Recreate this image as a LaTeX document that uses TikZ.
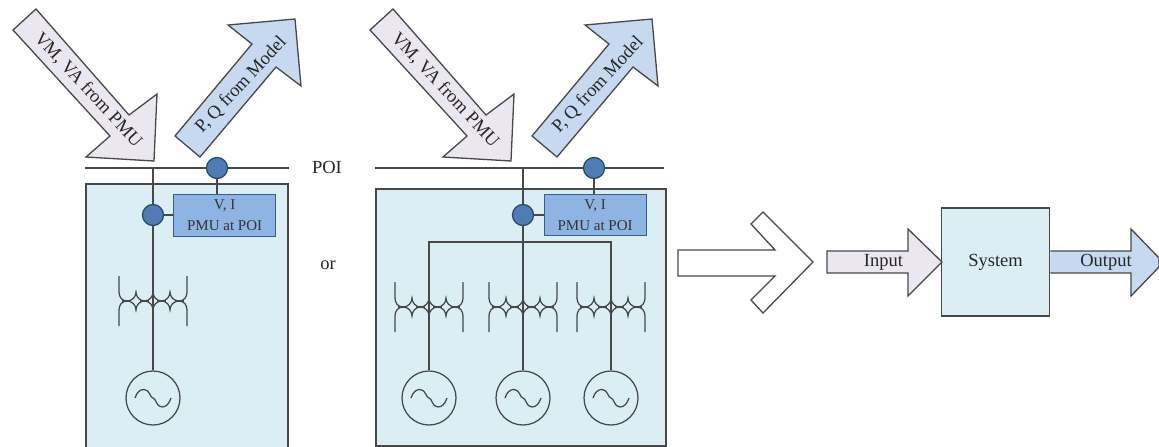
\documentclass[tikz,border=0pt]{standalone}
\usepackage{fontspec}
\setmainfont{Liberation Serif}
\definecolor{linec}{HTML}{484848}
\definecolor{boxfill}{HTML}{DAEEF3}
\definecolor{pmufill}{HTML}{8EB4E3}
\definecolor{pmuline}{HTML}{385D8A}
\definecolor{dotfill}{HTML}{4F7CB3}
\definecolor{infill}{HTML}{EBE7F0}
\definecolor{outfill}{HTML}{C6D9F1}
\tikzset{
  wire/.style={draw=linec,line width=1.5pt},
  thin wire/.style={draw=linec,line width=1.25pt},
  panel/.style={draw=linec,line width=1.6pt,fill=boxfill},
  pmu/.style={draw=pmuline,line width=1.2pt,fill=pmufill,align=center,font=\fontsize{15}{20}\selectfont,text=black!80,inner sep=0pt,anchor=north west},
  dot/.style={circle,draw=pmuline!80!black,line width=1.3pt,fill=dotfill,minimum size=21pt,inner sep=0pt},
  gen/.style={circle,thin wire,fill=none,minimum size=54pt,inner sep=0pt},
  inarrow/.style={draw=linec,line width=1.3pt,fill=infill,line join=miter},
  outarrow/.style={draw=linec,line width=1.3pt,fill=outfill,line join=miter},
  lab/.style={font=\fontsize{18.5}{22}\selectfont,text=black!85,inner sep=0pt},
  xfmrshape/.pic={
    \foreach \s in {1,-1}{
      \draw[thin wire,yscale=\s] (-34,-25) -- (-34,-9)
        .. controls (-34,-4) and (-31,0) .. (-26,0)
        .. controls (-21,0) and (-17,-4) .. (-17,-9)
        .. controls (-17,-4) and (-13,0) .. (-8.5,0)
        .. controls (-4,0) and (0,-4) .. (0,-9)
        .. controls (0,-4) and (4,0) .. (8.5,0)
        .. controls (13,0) and (17,-4) .. (17,-9)
        .. controls (17,-4) and (21,0) .. (26,0)
        .. controls (31,0) and (34,-4) .. (34,-9) -- (34,-25);
    }
    \draw[line width=1.8pt,draw=linec] (-31,0) -- (-22,0) (-13,0) -- (-4,0) (4,0) -- (13,0) (22,0) -- (31,0);
  },
  sinewave/.pic={
    \draw[thin wire] (-18,0) .. controls (-16,-6) and (-13,-8.5) .. (-9,-8.5)
      .. controls (-3,-8.5) and (-3,0) .. (0,0)
      .. controls (3,0) and (3,9) .. (9,9)
      .. controls (13,9) and (16,6) .. (18,0);
  }
}
\begin{document}
\begin{tikzpicture}[x=1pt,y=-1pt]
\useasboundingbox (0,0) rectangle (1159,447);

% left panel (runs off the bottom edge)
\fill[boxfill] (86,184) rectangle (288,447);
\draw[draw=linec,line width=1.6pt] (86,447) -- (86,184) -- (288,184) -- (288,447);
% right panel
\node[panel,minimum width=290pt,minimum height=257pt,inner sep=0pt,anchor=north west] (panelR) at (375,188) {};

% POI buses
\coordinate (busLa) at (85,168);
\coordinate (busLb) at (289,168);
\coordinate (busRa) at (375,168);
\coordinate (busRb) at (664,168);
\coordinate (feedL) at (153,168);
\coordinate (feedR) at (523,168);
\draw[wire] (busLa) -- (busLb);
\draw[wire] (busRa) -- (busRb);

% PMU boxes
\node[pmu,minimum width=102pt,minimum height=42pt] (pmuL) at (173,194) {V, I\\[1pt]PMU at POI};
\node[pmu,minimum width=102pt,minimum height=41pt] (pmuR) at (543.5,194) {V, I\\[1pt]PMU at POI};

% generators
\node[gen] (genL) at (153,398) {};
\node[gen] (genA) at (429,398) {};
\node[gen] (genB) at (523,398) {};
\node[gen] (genC) at (611,398) {};
\pic at (genL.center) {sinewave};
\pic at (genA.center) {sinewave};
\pic at (genB.center) {sinewave};
\pic at (genC.center) {sinewave};

% connectors
\draw[wire] (feedL) -- (genL.north);
\draw[wire] (feedR) -- (genB.north);
\coordinate (barA) at (429,242);
\coordinate (barC) at (611,242);
\draw[wire] (genA.north) -- (barA) -- (barC) -- (genC.north);

% transformers
\pic at (153,301) {xfmrshape};
\pic at (429,307) {xfmrshape};
\pic at (523,307) {xfmrshape};
\pic at (611,307) {xfmrshape};

% measurement dots
\node[dot] (dotLtop) at (217,168) {};
\node[dot] (dotRtop) at (594,168) {};
\node[dot] (dotL) at (153,215) {};
\node[dot] (dotR) at (523,215) {};
\draw[wire] (dotLtop) -- (dotLtop |- pmuL.north);
\draw[wire] (dotRtop) -- (dotRtop |- pmuR.north);
\draw[wire] (dotL) -- (dotL -| pmuL.west);
\draw[wire] (dotR) -- (dotR -| pmuR.west);

% block arrows, first pair
\draw[inarrow] (13,30) -- (36,9) -- (129,115) -- (157,94) -- (154,161) -- (86,157) -- (110,136) -- cycle;
\node[lab,rotate=-47] (vmL) at (88,90) {VM, VA from PMU};
\draw[outarrow] (175,136) -- (200,157) -- (276,67) -- (301,86) -- (295,19) -- (228,25) -- (252,44) -- cycle;
\node[lab,rotate=47] (pqL) at (241,85) {P, Q from Model};

% block arrows, second pair
\begin{scope}[xshift=357pt]
\draw[inarrow] (13,30) -- (36,9) -- (129,115) -- (157,94) -- (154,161) -- (86,157) -- (110,136) -- cycle;
\node[lab,rotate=-47] (vmR) at (88,90) {VM, VA from PMU};
\draw[outarrow] (175,136) -- (200,157) -- (276,67) -- (301,86) -- (295,19) -- (228,25) -- (252,44) -- cycle;
\node[lab,rotate=47] (pqR) at (241,85) {P, Q from Model};
\end{scope}

% free labels
\node[lab] (poi) at (327,167) {POI};
\node[lab] (orl) at (328,265) {or};

% big hollow arrow
\draw[draw=linec,line width=1.3pt,fill=white] (678,250) -- (775,250) -- (751,224) -- (763,212) -- (813,262) -- (763,313) -- (751,300) -- (775,276) -- (678,276) -- cycle;

% system block
\node[panel,minimum width=108pt,minimum height=108pt,inner sep=0pt,lab] (sys) at (995.5,262) {System};
\draw[inarrow] (827,251) -- (908,251) -- (908,229) -- (942,262) -- (908,296) -- (908,273) -- (827,273) -- cycle;
\node[lab] (inp) at (883.5,262) {Input};
\draw[outarrow] (sys.east |- 0,251) -- (1131,251) -- (1131,229) -- (1159,258) -- (1159,267) -- (1131,296) -- (1131,273) -- (sys.east |- 0,273);
\node[lab] (outp) at (1106,262) {Output};
\end{tikzpicture}
\end{document}
